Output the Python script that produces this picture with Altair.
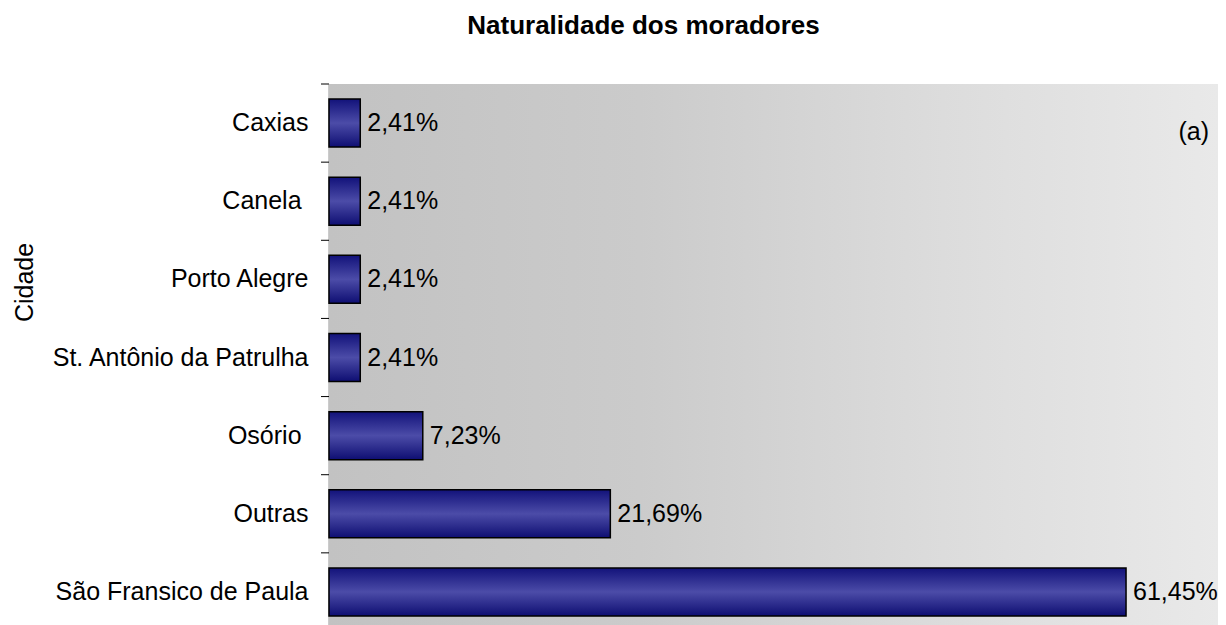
import altair as alt
import pandas as pd

# trailing non-breaking space (kept by a zero-width char) as in the original labels
cidades = ["Caxias", "Canela\u00a0\u200b", "Porto Alegre", "St. Antônio da Patrulha",
           "Osório\u00a0\u200b", "Outras", "São Fransico de Paula"]
percentuais = [2.41, 2.41, 2.41, 2.41, 7.23, 21.69, 61.45]
rotulos = ["2,41%", "2,41%", "2,41%", "2,41%", "7,23%", "21,69%", "61,45%"]

df = pd.DataFrame({"cidade": cidades, "pct": percentuais, "rotulo": rotulos})

FONT = "Liberation Sans"
W, H = 889, 547

y_enc = alt.Y("cidade:N", sort=cidades,
              scale=alt.Scale(paddingInner=0, paddingOuter=0),
              axis=alt.Axis(title="Cidade", titleFont=FONT, titleFontSize=25,
                            titleFontWeight="normal", titleColor="black",
                            titleAngle=270, titleBaseline="alphabetic",
                            titleAlign="center", titleX=-297, titleY=198,
                            labelFont=FONT, labelFontSize=25, labelColor="black",
                            labelPadding=21, labelLimit=500, ticks=False, tickSize=0,
                            domainColor="#333333", domainWidth=1.5))
x_enc = alt.X("pct:Q", scale=alt.Scale(domain=[0, 68.54], nice=False, zero=True),
              axis=None)

bg = alt.Chart(df).mark_rect(
    color=alt.LinearGradient(
        gradient="linear",
        stops=[alt.GradientStop(color="#c2c2c2", offset=0),
               alt.GradientStop(color="#cbcbcb", offset=0.35),
               alt.GradientStop(color="#dcdcdc", offset=0.69),
               alt.GradientStop(color="#e9e9e9", offset=1)],
        x1=0, x2=1, y1=0, y2=0)
).encode(x=alt.value(0), x2=alt.value("width"), y=alt.value(0), y2=alt.value("height"))

bars = alt.Chart(df).mark_bar(
    size=48, stroke="black", strokeWidth=1.5,
    color=alt.LinearGradient(
        gradient="linear",
        stops=[alt.GradientStop(color="#12127a", offset=0),
               alt.GradientStop(color="#4c4ca8", offset=0.5),
               alt.GradientStop(color="#0e0e72", offset=1)],
        x1=0, x2=0, y1=0, y2=1)
).encode(x=x_enc, y=y_enc)

labels = alt.Chart(df).mark_text(
    align="left", baseline="middle", dx=7, font=FONT, fontSize=25, color="black"
).encode(x="pct:Q", y=alt.Y("cidade:N", sort=cidades), text="rotulo:N")

ticks = alt.Chart(df).mark_rule(color="black", strokeWidth=1).encode(
    y=alt.Y("cidade:N", sort=cidades, bandPosition=0),
    x=alt.value(-8), x2=alt.value(0))

tag = alt.Chart(pd.DataFrame({"t": ["(a)"]})).mark_text(
    align="right", baseline="alphabetic", font=FONT, fontSize=25, color="black"
).encode(x=alt.value(880), y=alt.value(56), text="t:N")

chart = alt.layer(bg, bars, labels, ticks, tag).properties(
    width=W, height=H,
    title=alt.TitleParams("Naturalidade dos moradores", font=FONT, fontSize=26,
                          fontWeight="bold", color="black", anchor="middle",
                          frame="group", dx=-130, offset=24,
                          baseline="alphabetic"),
    autosize=alt.AutoSizeParams(type="none"),
    padding={"left": 321, "top": 76, "right": 0, "bottom": 0},
).configure_view(stroke="#808080", strokeWidth=1.5).configure(background="white")

chart.save("out.html", embed_options={"renderer": "svg", "actions": False})
